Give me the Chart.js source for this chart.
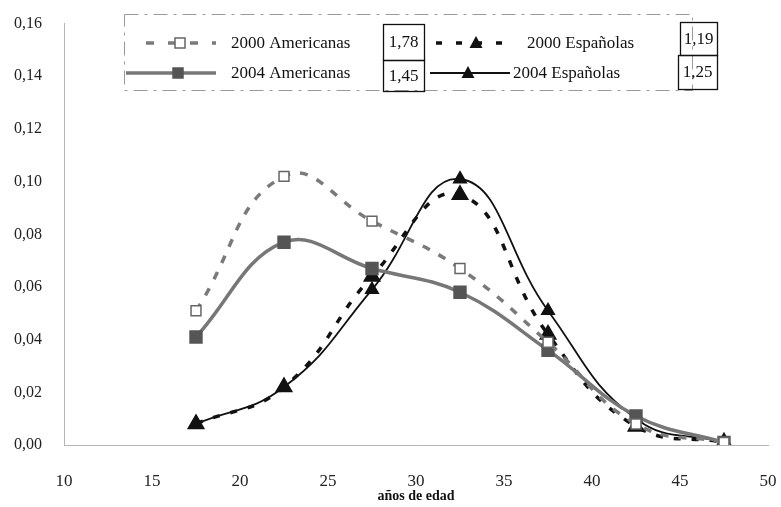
<!DOCTYPE html>
<html lang="es">
<head>
    <meta charset="UTF-8">
    <title>Tasas de fecundidad por edad</title>
    <script src="https://cdn.jsdelivr.net/npm/chart.js"></script>
    <style>
        html, body { margin: 0; padding: 0; background: #fff; }
        .wrap { width: 781px; height: 507px; position: relative; }
    </style>
</head>
<body>
    <div class="wrap">
        <canvas id="fertChart" width="781" height="507"></canvas>
    </div>
    <script>
        // edades (centro de cada grupo quinquenal)
        const ages = [17.5, 22.5, 27.5, 32.5, 37.5, 42.5, 47.5];
        const am2000 = [0.051, 0.102, 0.085, 0.067, 0.039, 0.008, 0.001];
        const am2004 = [0.041, 0.077, 0.067, 0.058, 0.036, 0.011, 0.001];
        const es2000 = [0.008, 0.022, 0.064, 0.095, 0.042, 0.007, 0.001];
        const es2004 = [0.008, 0.022, 0.059, 0.101, 0.051, 0.010, 0.001];
        const seriesNames = ['2000 Americanas', '2004 Americanas', '2000 Españolas', '2004 Españolas'];
        const tfr = ['1,78', '1,45', '1,19', '1,25'];
        const xTicks = [10, 15, 20, 25, 30, 35, 40, 45, 50];
        const yTicks = [0, 0.02, 0.04, 0.06, 0.08, 0.1, 0.12, 0.14, 0.16];

        const FONT = '"Liberation Serif", "DejaVu Serif", serif';

        const toPts = vals => vals.map((v, i) => ({ x: ages[i], y: v }));

        // custom legend with the boxed totals
        const legendBox = {
            id: 'legendBox',
            afterDraw(chart) {
                const ctx = chart.ctx;
                ctx.save();
                // dashed frame
                ctx.strokeStyle = '#9a9a9a';
                ctx.lineWidth = 1;
                ctx.setLineDash([14, 6, 3, 6]);
                ctx.strokeRect(124.5, 14.5, 568, 76);
                ctx.setLineDash([]);

                function sample(x1, x2, y, color, width, dash) {
                    ctx.strokeStyle = color;
                    ctx.lineWidth = width;
                    ctx.setLineDash(dash);
                    ctx.beginPath();
                    ctx.moveTo(x1, y);
                    ctx.lineTo(x2, y);
                    ctx.stroke();
                    ctx.setLineDash([]);
                }
                function square(x, y, fill, stroke) {
                    ctx.fillStyle = fill;
                    ctx.strokeStyle = stroke;
                    ctx.lineWidth = 1.5;
                    ctx.fillRect(x - 5, y - 5, 10, 10);
                    ctx.strokeRect(x - 5, y - 5, 10, 10);
                }
                function tri(x, y) {
                    ctx.fillStyle = '#111';
                    ctx.beginPath();
                    ctx.moveTo(x, y - 7);
                    ctx.lineTo(x + 6.5, y + 5);
                    ctx.lineTo(x - 6.5, y + 5);
                    ctx.closePath();
                    ctx.fill();
                }
                function boxed(x, y, w, h, txt) {
                    ctx.strokeStyle = '#111';
                    ctx.lineWidth = 1.3;
                    ctx.strokeRect(x + 0.5, y + 0.5, w, h);
                    ctx.fillStyle = '#111';
                    ctx.textAlign = 'center';
                    ctx.textBaseline = 'middle';
                    ctx.fillText(txt, x + w / 2, y + h / 2 + 1);
                }

                const r1 = 43, r2 = 73;
                // 2000 Americanas
                sample(146, 216, r1, '#7a7a7a', 3.5, [8, 14]);
                square(180, r1, '#fff', '#666');
                // 2004 Americanas
                sample(126, 216, r2, '#777', 3.5, []);
                square(178, r2, '#555', '#555');
                // 2000 Españolas
                sample(436, 516, r1, '#111', 3.5, [6, 14]);
                tri(476, r1);
                // 2004 Españolas
                sample(430, 510, r2, '#111', 1.8, []);
                tri(468, r2);

                ctx.font = '17px ' + FONT;
                ctx.fillStyle = '#111';
                ctx.textAlign = 'left';
                ctx.textBaseline = 'middle';
                ctx.fillText(seriesNames[0], 231, r1 + 1);
                ctx.fillText(seriesNames[1], 231, r2 + 1);
                ctx.fillText(seriesNames[2], 527, r1 + 1);
                ctx.fillText(seriesNames[3], 513, r2 + 1);

                boxed(383, 24, 41, 36, tfr[0]);
                boxed(383, 60, 41, 31, tfr[1]);
                boxed(680, 22, 37, 33, tfr[2]);
                boxed(678, 55, 39, 34, tfr[3]);
                ctx.restore();
            }
        };

        const ctx = document.getElementById('fertChart').getContext('2d');
        new Chart(ctx, {
            type: 'line',
            data: {
                datasets: [{
                    label: seriesNames[0],
                    data: toPts(am2000),
                    borderColor: '#7a7a7a',
                    borderWidth: 3.5,
                    borderDash: [8, 10],
                    pointStyle: 'rect',
                    pointRadius: 7,
                    pointBorderWidth: 1.5,
                    pointBackgroundColor: '#fff',
                    pointBorderColor: '#666',
                    tension: 0.45
                }, {
                    label: seriesNames[1],
                    data: toPts(am2004),
                    borderColor: '#777',
                    borderWidth: 3.5,
                    pointStyle: 'rect',
                    pointRadius: 7,
                    pointBackgroundColor: '#555',
                    pointBorderColor: '#555',
                    tension: 0.4
                }, {
                    label: seriesNames[2],
                    data: toPts(es2000),
                    borderColor: '#111',
                    borderWidth: 3.5,
                    borderDash: [7, 11],
                    pointStyle: 'triangle',
                    pointRadius: 7,
                    pointBackgroundColor: '#111',
                    pointBorderColor: '#111',
                    tension: 0.45
                }, {
                    label: seriesNames[3],
                    data: toPts(es2004),
                    borderColor: '#111',
                    borderWidth: 1.8,
                    pointStyle: 'triangle',
                    pointRadius: 7,
                    pointBackgroundColor: '#111',
                    pointBorderColor: '#111',
                    tension: 0.45
                }]
            },
            options: {
                responsive: false,
                animation: false,
                layout: { padding: { top: 18, right: 0, left: 0, bottom: 0 } },
                plugins: {
                    legend: { display: false },
                    tooltip: { enabled: false }
                },
                scales: {
                    x: {
                        type: 'linear',
                        min: 10,
                        max: 50,
                        afterBuildTicks: s => { s.ticks = xTicks.map(v => ({ value: v })); },
                        afterFit: s => { s.height = 62; s.paddingRight = 13; },
                        grid: { display: false },
                        border: { display: true, color: '#b5b5b5', width: 1, dash: [12, 18] },
                        ticks: {
                            color: '#222',
                            padding: 18,
                            font: { family: FONT, size: 17 }
                        },
                        title: {
                            display: true,
                            text: 'años de edad',
                            color: '#111',
                            padding: { top: 0, bottom: 2 },
                            font: { family: FONT, size: 14, weight: 'bold' }
                        }
                    },
                    y: {
                        min: 0,
                        max: 0.16,
                        afterBuildTicks: s => { s.ticks = yTicks.map(v => ({ value: v })); },
                        afterFit: s => { s.width = 64; },
                        grid: { display: false },
                        border: { display: true, color: '#b5b5b5', width: 1, dash: [30, 22] },
                        ticks: {
                            color: '#222',
                            padding: 14,
                            font: { family: FONT, size: 16 },
                            callback: v => v.toFixed(2).replace('.', ',')
                        }
                    }
                }
            },
            plugins: [legendBox]
        });
    </script>
</body>
</html>
